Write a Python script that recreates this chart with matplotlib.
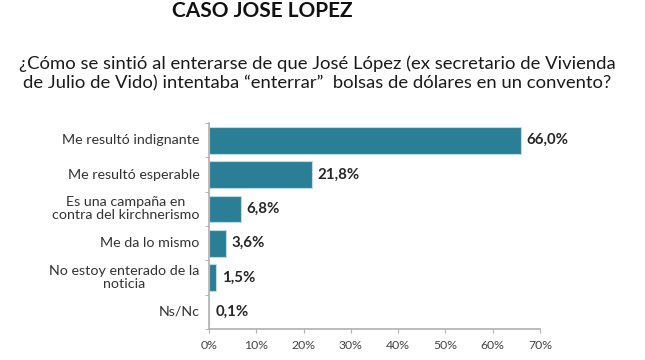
import matplotlib.pyplot as plt
from matplotlib.ticker import FuncFormatter

categories = [
    'Me resultó indignante',
    'Me resultó esperable',
    'Es una campaña en\ncontra del kirchnerismo',
    'Me da lo mismo',
    'No estoy enterado de la\nnoticia',
    'Ns/Nc',
]
values = [66.0, 21.8, 6.8, 3.6, 1.5, 0.1]
value_labels = ['66,0%', '21,8%', '6,8%', '3,6%', '1,5%', '0,1%']
x_ticks = [0, 10, 20, 30, 40, 50, 60, 70]

plt.rcParams['font.family'] = ['Lato', 'DejaVu Sans']

fig = plt.figure(figsize=(6.45, 3.6), dpi=100)
fig.patch.set_facecolor('white')

fig.text(0.407, 0.997, 'CASO JOSE LOPEZ', ha='center', va='top', fontsize=15,
         fontweight='bold', color='#111111')
fig.text(0.492, 0.795,
         '¿Cómo se sintió al enterarse de que José López (ex secretario de Vivienda\n'
         'de Julio de Vido) intentaba “enterrar”  bolsas de dólares en un convento?',
         ha='center', va='center', fontsize=13.3, color='#1a1a1a', linespacing=1.25)

ax = fig.add_axes([0.324, 0.086, 0.513, 0.572])
y = list(range(len(categories)))
ax.barh(y, values, height=0.78, color='#2a7f97', edgecolor='#bfdbe4', linewidth=0.8)
ax.set_ylim(len(categories) - 0.5, -0.5)
ax.set_xlim(0, 70)
ax.set_xticks(x_ticks)
ax.xaxis.set_major_formatter(FuncFormatter(lambda v, _: f'{int(v)}%'))
ax.set_yticks(y)
ax.set_yticklabels([])

# category labels drawn by hand so wrapped lines stay centred
for yi, cat in zip(y, categories):
    ax.text(-0.028, yi, cat, transform=ax.get_yaxis_transform(), ha='right', va='center',
            multialignment='center', fontsize=10.3, color='#333333', linespacing=1.1)

for yi, v, lab in zip(y, values, value_labels):
    ax.text(v + 1.2, yi, lab, va='center', ha='left', fontsize=10.8,
            fontweight='bold', color='#262626')

for side in ['top', 'right']:
    ax.spines[side].set_visible(False)
for side in ['left', 'bottom']:
    ax.spines[side].set_color('#b0b0b0')
    ax.spines[side].set_linewidth(1.2)
ax.tick_params(axis='x', labelsize=8.8, colors='#444444', length=3, color='#b0b0b0', pad=5)
ax.tick_params(axis='y', length=0)
ax.set_yticks([i + 0.5 for i in range(-1, len(categories))], minor=True)
ax.tick_params(axis='y', which='minor', length=3, color='#b0b0b0')

fig.savefig('out.png', dpi=100)
